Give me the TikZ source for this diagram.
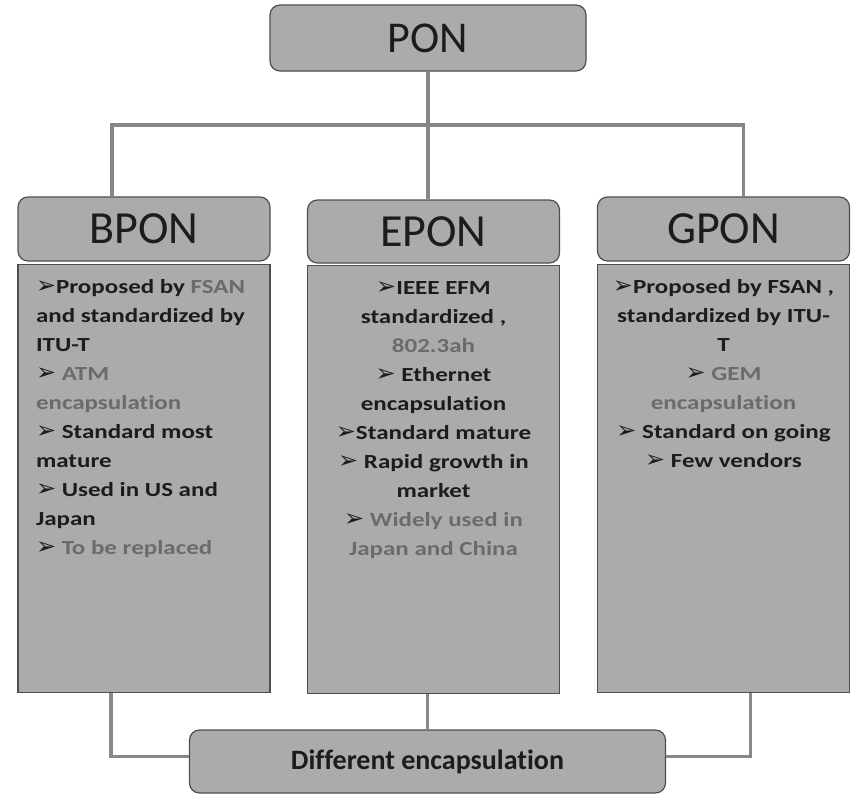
\documentclass[tikz,border=0pt]{standalone}
\usepackage{fontspec}
\setmainfont{Carlito}[Ligatures=NoCommon]
\newfontfamily\bodyfont{Carlito}[FakeStretch=1.25,Ligatures=NoCommon]
\newfontfamily\dingfont{DejaVu Sans}
\definecolor{boxfill}{HTML}{ABABAB}
\definecolor{boxline}{HTML}{4F4F4F}
\definecolor{linkgray}{HTML}{878787}
\definecolor{darktext}{HTML}{1C1C1C}
\definecolor{faintgray}{HTML}{6B6B6B}
\newcommand\bul{{\dingfont\fontsize{24}{29}\selectfont ➢}}
\newcommand\faint[1]{\textcolor{faintgray}{#1}}
\tikzset{
  headbox/.style={draw=boxline, fill=boxfill, line width=1.2pt, rounded corners=10pt,
    minimum width=252pt, minimum height=64pt, inner sep=0pt, text=darktext,
    font=\fontsize{46}{50}\selectfont},
  bodybox/.style={draw=boxline, fill=boxfill, line width=1.2pt, minimum width=252pt,
    minimum height=428pt, inner sep=0pt, anchor=north, text=darktext,
    font=\bodyfont\bfseries\fontsize{20}{29}\selectfont},
  conn/.style={draw=linkgray, line width=3.5pt}
}
\begin{document}
\begin{tikzpicture}[x=1pt,y=-1pt]
    \useasboundingbox (0,0) rectangle (852,795);

    % top
    \node[headbox, minimum width=316pt, minimum height=66pt, font=\fontsize{44}{48}\selectfont] (pon) at (428,38) {PON};

    % three columns
    \node[headbox] (bpon) at (144,229) {BPON};
    \node[headbox, minimum height=63pt] (epon) at (433.5,231.5) {EPON};
    \node[headbox] (gpon) at (723.5,229) {GPON};

    \node[bodybox] (bpbody) at (144,264) {\parbox[c][410pt][t]{216pt}{\raggedright\strut
        \bul Proposed by \faint{FSAN}\\
        and standardized by\\
        ITU-T\\
        \bul\ \faint{ATM}\\
        \faint{encapsulation}\\
        \bul\ Standard most\\
        mature\\
        \bul\ Used in US and\\
        Japan\\
        \bul\ \faint{To be replaced}}};
    \node[bodybox] (epbody) at (433.5,265) {\parbox[c][410pt][t]{236pt}{\centering\strut
        \bul IEEE EFM\\
        standardized ,\\
        \faint{802.3ah}\\
        \bul\ Ethernet\\
        encapsulation\\
        \bul Standard mature\\
        \bul\ Rapid growth in\\
        market\\
        \bul\ \faint{Widely used in}\\
        \faint{Japan and China}}};
    \node[bodybox] (gpbody) at (723.5,264) {\parbox[c][410pt][t]{236pt}{\centering\strut
        \bul Proposed by FSAN ,\\
        standardized by ITU-\\
        T\\
        \bul\ \faint{GEM}\\
        \faint{encapsulation}\\
        \bul\ Standard on going\\
        \bul\ Few vendors}};

    % bottom
    \node[headbox, minimum width=476pt, minimum height=63pt, font=\bfseries\fontsize{28}{32}\selectfont] (diff) at (427.5,761.5) {Different encapsulation};

    % connectors
    \coordinate (bar) at (428,125);
    \draw[conn] (pon.south) -- (pon.south |- epon.north);
    \draw[conn] ([xshift=-32pt]bpon.north) |- (bar) -| ([xshift=20pt]gpon.north);
    \draw[conn] ([xshift=-33pt]bpbody.south) |- ([yshift=5pt]diff.west);
    \draw[conn] (diff.north |- epbody.south) -- (diff.north);
    \draw[conn] ([xshift=27pt]gpbody.south) |- ([yshift=5pt]diff.east);
\end{tikzpicture}
\end{document}
